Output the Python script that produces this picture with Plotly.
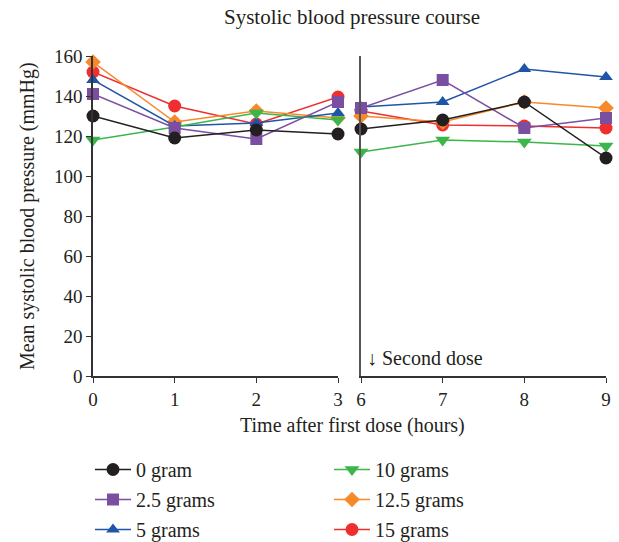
import plotly.graph_objects as go

# ---- data ----
hours_first = [0, 1, 2, 3]
hours_second = [6, 7, 8, 9]

series_names = ["0 gram", "2.5 grams", "5 grams", "10 grams", "12.5 grams", "15 grams"]
first_dose = {
    "0 gram":     [130, 119, 123, 121],
    "2.5 grams":  [141, 124, 118.5, 137],
    "5 grams":    [148, 125, 126.5, 131.5],
    "10 grams":   [118, 124.5, 131.5, 128],
    "12.5 grams": [157, 127, 132.5, 129],
    "15 grams":   [152, 135, 126, 139.5],
}
second_dose = {
    "0 gram":     [123.5, 128, 137, 109],
    "2.5 grams":  [134, 148, 124, 129],
    "5 grams":    [134.5, 137, 153.5, 149.5],
    "10 grams":   [112, 118, 117, 115],
    "12.5 grams": [130, 127, 137, 134],
    "15 grams":   [132.5, 125.5, 125, 124],
}
y_ticks = [0, 20, 40, 60, 80, 100, 120, 140, 160]

colors = {
    "0 gram": "#231f20",
    "2.5 grams": "#7a4ea0",
    "5 grams": "#1f55a6",
    "10 grams": "#3cb54a",
    "12.5 grams": "#f6892a",
    "15 grams": "#ee2e2f",
}
symbols = {
    "0 gram": "circle",
    "2.5 grams": "square",
    "5 grams": "triangle-up",
    "10 grams": "triangle-down",
    "12.5 grams": "diamond",
    "15 grams": "circle",
}
msize = {
    "0 gram": 13, "2.5 grams": 12, "5 grams": 12,
    "10 grams": 13, "12.5 grams": 12, "15 grams": 13,
}
legend_of = {
    "0 gram": "legend", "2.5 grams": "legend", "5 grams": "legend",
    "10 grams": "legend2", "12.5 grams": "legend2", "15 grams": "legend2",
}
legend_rank = {n: i for i, n in enumerate(series_names)}

FONT = "Liberation Serif"
draw_order = ["15 grams", "12.5 grams", "5 grams", "10 grams", "2.5 grams", "0 gram"]

fig = go.Figure()
for name in draw_order:
    common = dict(
        mode="lines+markers",
        line=dict(color=colors[name], width=1.5),
        marker=dict(color=colors[name], symbol=symbols[name], size=msize[name]),
        cliponaxis=False,
    )
    fig.add_trace(go.Scatter(
        x=hours_first, y=first_dose[name], name=name, xaxis="x", yaxis="y",
        legend=legend_of[name], legendrank=legend_rank[name], legendgroup=name,
        showlegend=True, **common))
    fig.add_trace(go.Scatter(
        x=hours_second, y=second_dose[name], name=name, xaxis="x2", yaxis="y2",
        legendgroup=name, showlegend=False, **common))

axis_common = dict(
    showgrid=False, zeroline=False, showline=True, linecolor="#333333", linewidth=1.5,
    ticks="outside", ticklen=5, tickcolor="#333333", tickwidth=1.2, automargin=False,
    tickfont=dict(family=FONT, size=19, color="#231f20"),
)

L = 245 / 513
R = 268 / 513
LEG_TOP = -(450 - 376) / 320
fig.update_layout(
    width=619, height=542,
    margin=dict(l=93, r=13, t=56, b=166, autoexpand=False),
    plot_bgcolor="white", paper_bgcolor="white",
    font=dict(family=FONT, size=20, color="#231f20"),
    title=dict(text="Systolic blood pressure course", x=352 / 619, xanchor="center",
               y=1 - 17 / 542, yanchor="middle", font=dict(family=FONT, size=21)),
    xaxis=dict(domain=[0, L], range=[0, 3], tickvals=hours_first, anchor="y", **axis_common),
    xaxis2=dict(domain=[R, 1], range=[6, 9], tickvals=hours_second, anchor="y2", **axis_common),
    yaxis=dict(range=[0, 160], tickvals=y_ticks, anchor="x", **axis_common),
    yaxis2=dict(range=[0, 160], anchor="x2", showgrid=False, zeroline=False, showline=True,
                linecolor="#555555", linewidth=1.5, showticklabels=False, ticks="",
                automargin=False),
    legend=dict(x=-3 / 513, xanchor="left", y=LEG_TOP, yanchor="top",
                orientation="v", font=dict(family=FONT, size=20), tracegroupgap=1,
                itemwidth=36, bgcolor="rgba(0,0,0,0)"),
    legend2=dict(x=(332 - 96) / 513, xanchor="left", y=LEG_TOP, yanchor="top",
                 orientation="v", font=dict(family=FONT, size=20), tracegroupgap=1,
                 itemwidth=36, bgcolor="rgba(0,0,0,0)"),
    annotations=[
        dict(text="↓ Second dose", x=6, y=9, xref="x2", yref="y2", xanchor="left",
             yanchor="middle", xshift=4, showarrow=False, font=dict(family=FONT, size=20)),
        dict(text="Time after first dose (hours)", x=(352 - 93) / 513, y=-(425 - 376) / 320,
             xref="paper", yref="paper", xanchor="center", yanchor="middle",
             showarrow=False, font=dict(family=FONT, size=20)),
        dict(text="Mean systolic blood pressure (mmHg)", x=-(93 - 27) / 513, y=0.5,
             xref="paper", yref="paper", xanchor="center", yanchor="middle", textangle=-90,
             showarrow=False, font=dict(family=FONT, size=20)),
    ],
)

fig.write_html("out.html", post_script="document.body.style.margin='0';",
               config={"displayModeBar": False})
